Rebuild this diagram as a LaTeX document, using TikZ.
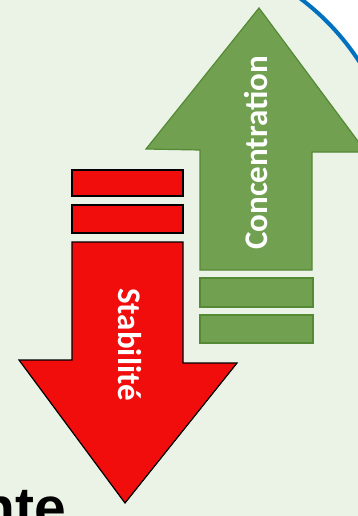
\documentclass[tikz,border=0pt]{standalone}
\usepackage{fontspec}
\setmainfont{Carlito}
\newfontfamily\arialfont{Liberation Sans}
\definecolor{bgg}{HTML}{EBF3E7}
\definecolor{grfill}{HTML}{70A050}
\definecolor{grdraw}{HTML}{558A35}
\definecolor{rdfill}{HTML}{F20D0D}
\definecolor{blu}{HTML}{0070C0}
\tikzset{
  greenshape/.style={fill=grfill, draw=grdraw, line width=1.2pt, line join=miter},
  redshape/.style={fill=rdfill, draw=black, line width=1.2pt, line join=miter},
  arrowlabel/.style={text=white, font=\bfseries\fontsize{33}{40}\selectfont, inner sep=0pt}
}
\begin{document}
\begin{tikzpicture}[x=1pt,y=-1pt]
\useasboundingbox (0,0) rectangle (358,516);
\clip (0,0) rectangle (358,516);
\fill[bgg] (0,0) rectangle (358,516);
% white outside the blue circle (top right)
\begin{scope}
  \clip (280,-5) rectangle (365,80);
  \fill[white, even odd rule] (270,-10) rectangle (370,90) (152,196) circle[radius=247];
  \draw[blu, line width=4pt] (152,196) circle[radius=247];
\end{scope}
% green arrow (up)
\draw[greenshape] (200,270) -- (200,150) -- (146,149) -- (259,8) -- (366,152) -- (312,152) -- (312,270) -- cycle;
\draw[greenshape] (200,278) rectangle (313,307);
\draw[greenshape] (200,315) rectangle (313,343);
\node[arrowlabel, rotate=90, anchor=base west] (conc) at (267,250) {Concentration};
% red arrow (down)
\draw[redshape] (72,170) rectangle (183,196);
\draw[redshape] (72,205) rectangle (183,233);
\draw[redshape] (72,242) -- (72,360) -- (19,360) -- (125,503) -- (237,363) -- (183,363) -- (183,242) -- cycle;
\node[arrowlabel, rotate=-90, anchor=base west] (stab) at (118,288) {Stabilité};
% partial text bottom left
\node[inner sep=0pt, anchor=base west, font=\arialfont\bfseries\fontsize{57}{60}\selectfont] (nte) at (-20,527) {nte};
\end{tikzpicture}
\end{document}
